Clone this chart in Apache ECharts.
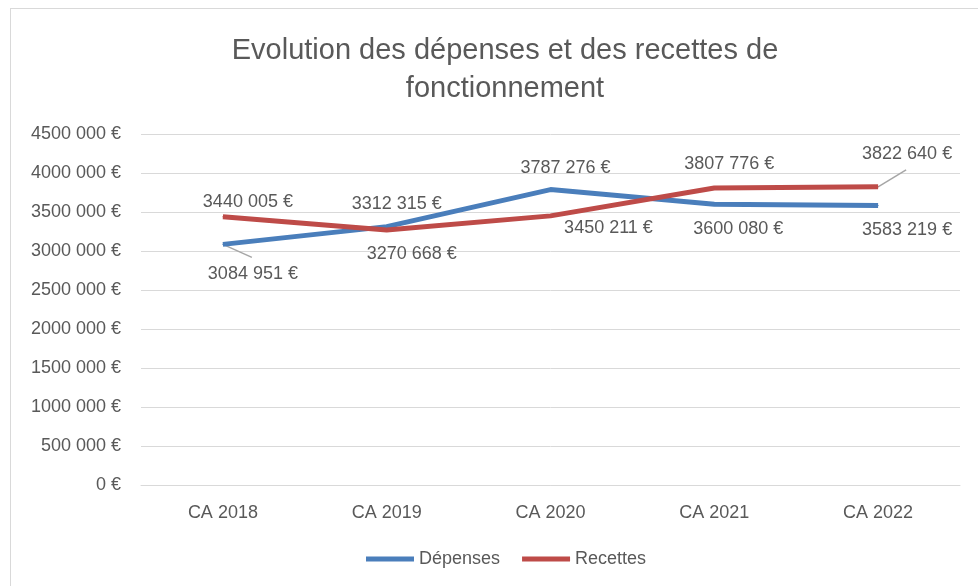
<!DOCTYPE html>
<html lang="fr">
<head>
<meta charset="UTF-8" />
<title>Evolution des dépenses et des recettes</title>
<script type="text/javascript" src="https://cdn.jsdelivr.net/npm/echarts@6/dist/echarts.min.js"></script>
<style>
    html, body { margin: 0; padding: 0; background: #fff; }
    #cadre { position: absolute; left: 10px; top: 8px; width: 1100px; height: 700px; border: 1px solid #d9d9d9; }
    #main { position: absolute; left: 0; top: 0; width: 978px; height: 586px; }
</style>
</head>
<body>
<div id="cadre"></div>
<!-- conteneur du graphique -->
<div id="main"></div>
<script type="text/javascript">
    var annees = ['CA 2018', 'CA 2019', 'CA 2020', 'CA 2021', 'CA 2022'];
    var depenses = [3084951, 3312315, 3787276, 3600080, 3583219];
    var recettes = [3440005, 3270668, 3450211, 3807776, 3822640];
    var graduations = [0, 500000, 1000000, 1500000, 2000000, 2500000, 3000000, 3500000, 4000000, 4500000];

    // format "3440 005 €" comme dans Excel
    function euros(v) {
        if (v === 0) return '0 €';
        var milliers = Math.floor(v / 1000);
        var reste = String(v % 1000);
        while (reste.length < 3) reste = '0' + reste;
        return milliers + ' ' + reste + ' €';
    }

    var police = 'Liberation Sans';
    var gris = '#595959';

    // placement des étiquettes : [position, dx, dy, trait de rappel [dx, dy] ou null]
    var placeDep = [['bottom', 30, 15, [29, 13]], ['top', 10, -8, null], ['top', 15, -7, null], ['bottom', 24, 10, null], ['bottom', 29, 10, null]];
    var placeRec = [['top', 25, 0, null], ['bottom', 25, 10, null], ['bottom', 58, -2, null], ['top', 15, -9, null], ['top', 29, -18, [28, -17]]];

    function points(valeurs, places) {
        return valeurs.map(function (v, i) {
            return { value: v, label: { position: places[i][0] } };
        });
    }

    function layout(places) {
        return function (params) {
            var p = places[params.dataIndex];
            return { dx: p[1], dy: p[2] };
        };
    }

    function serie(nom, valeurs, places, couleur) {
        return {
            name: nom,
            type: 'line',
            data: points(valeurs, places),
            symbol: 'circle',
            symbolSize: 1,
            lineStyle: { color: couleur, width: 5 },
            itemStyle: { color: couleur },
            label: { show: true, fontFamily: police, fontSize: 18, color: gris, formatter: function (p) { return euros(p.value); } },
            labelLayout: layout(places)
        };
    }

    var myChart = echarts.init(document.getElementById('main'));

    var options = {
        animation: false,
        title: {
            text: 'Evolution des dépenses et des recettes de\nfonctionnement',
            left: 500,
            textAlign: 'center',
            top: 27,
            textStyle: { fontFamily: police, fontSize: 29, fontWeight: 'normal', color: gris, lineHeight: 38 }
        },
        legend: {
            data: ['Dépenses', 'Recettes'],
            bottom: 13,
            left: 361,
            icon: 'rect',
            itemWidth: 48,
            itemHeight: 5,
            itemGap: 22,
            textStyle: { fontFamily: police, fontSize: 18, color: gris }
        },
        grid: { left: 141, right: 18, top: 134, bottom: 101, containLabel: false },
        xAxis: {
            type: 'category',
            data: annees,
            axisLine: { lineStyle: { color: '#d9d9d9', width: 1 } },
            axisTick: { show: false },
            axisLabel: { fontFamily: police, fontSize: 18, color: gris, margin: 19 }
        },
        yAxis: {
            type: 'value',
            min: graduations[0],
            max: graduations[graduations.length - 1],
            interval: 500000,
            axisLine: { show: false },
            axisTick: { show: false },
            splitLine: { lineStyle: { color: '#d9d9d9', width: 1 } },
            axisLabel: { fontFamily: police, fontSize: 18, color: gris, margin: 20, formatter: euros }
        },
        series: [
            serie('Dépenses', depenses, placeDep, '#4a7ebb'),
            serie('Recettes', recettes, placeRec, '#be4b48')
        ]
    };
    myChart.setOption(options);

    // traits de rappel pour les étiquettes déplacées
    var traits = [];
    [[0, depenses, placeDep], [1, recettes, placeRec]].forEach(function (s) {
        s[1].forEach(function (v, i) {
            var t = s[2][i][3];
            if (!t) return;
            var pt = myChart.convertToPixel({ seriesIndex: s[0] }, [i, v]);
            traits.push({
                type: 'line',
                silent: true,
                shape: { x1: pt[0], y1: pt[1], x2: pt[0] + t[0], y2: pt[1] + t[1] },
                style: { stroke: '#a6a6a6', lineWidth: 1.5 }
            });
        });
    });
    myChart.setOption({ graphic: traits });
</script>
</body>
</html>
